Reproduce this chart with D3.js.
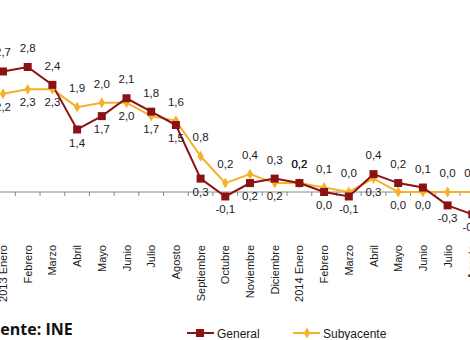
<!DOCTYPE html>
<html>
<head>
<meta charset="utf-8">
<script src="https://cdn.jsdelivr.net/npm/d3@7"></script>
<style>
  body { margin: 0; background: #fff; }
  svg { display: block; font-family: "Liberation Sans", Arial, sans-serif; }
</style>
</head>
<body>
<svg id="chart" width="470" height="340"></svg>
<script>

// categories and values
var months = ["2013 Enero", "Febrero", "Marzo", "Abril", "Mayo", "Junio", "Julio", "Agosto",
  "Septiembre", "Octubre", "Noviembre", "Diciembre", "2014 Enero", "Febrero ", "Marzo ",
  "Abril ", "Mayo ", "Junio ", "Julio ", "Agosto "];
var general = [2.7, 2.8, 2.4, 1.4, 1.7, 2.1, 1.8, 1.5, 0.3, -0.1, 0.2, 0.3, 0.2, 0.0, -0.1, 0.4, 0.2, 0.1, -0.3, -0.5];
var subyacente = [2.2, 2.3, 2.3, 1.9, 2.0, 2.0, 1.7, 1.6, 0.8, 0.2, 0.4, 0.2, 0.2, 0.1, 0.0, 0.3, 0.0, 0.0, 0.0, 0.0];
// which side of the point each value label sits on (1 = above, -1 = below)
var generalSide = [1, 1, 1, -1, -1, 1, 1, -1, -1, -1, -1, 1, 1, -1, -1, 1, 1, 1, -1, -1];
var subyacenteSide = [-1, -1, -1, 1, 1, -1, -1, 1, 1, 1, 1, -1, 1, 1, 1, -1, -1, -1, 1, 1];

var seriesNames = ["General", "Subyacente"];
var colors = ["#8b1212", "#f5b12a"];

var svg = d3.select("#chart");
var step = 24.7, first = 3;

// scales
var x = d3.scaleBand().domain(months)
  .range([first - step / 2, first - step / 2 + step * months.length]);
var y = d3.scaleLinear().domain([-1, 3]).range([192 + 44.64, 192 - 3 * 44.64]);
var cx = function(i) { return x(months[i]) + x.bandwidth() / 2; };

// zero axis with ticks between categories
var axis = svg.append("g").attr("transform", "translate(0," + y(0) + ")");
axis.append("line")
  .attr("x1", 0).attr("x2", 470)
  .attr("stroke", "#8a8a8a").attr("stroke-width", 1);
axis.selectAll("line.tick")
  .data(d3.range(months.length + 1))
  .enter().append("line")
  .attr("class", "tick")
  .attr("x1", function(i) { return x.range()[0] + i * x.step(); })
  .attr("x2", function(i) { return x.range()[0] + i * x.step(); })
  .attr("y1", 0).attr("y2", 4)
  .attr("stroke", "#8a8a8a");

// category labels
svg.append("g").selectAll("text")
  .data(months)
  .enter().append("text")
  .attr("transform", function(d, i) { return "translate(" + (cx(i) + 4) + ",245)rotate(-90)"; })
  .attr("text-anchor", "end")
  .attr("font-size", 11)
  .attr("fill", "#1a1a1a")
  .text(function(d) { return d.trim(); });

var line = d3.line()
  .x(function(d, i) { return cx(i); })
  .y(function(d) { return y(d); });

// subyacente first so general sits on top
svg.append("path")
  .datum(subyacente)
  .attr("d", line)
  .attr("fill", "none")
  .attr("stroke", colors[1])
  .attr("stroke-width", 2);

svg.append("path")
  .datum(general)
  .attr("d", line)
  .attr("fill", "none")
  .attr("stroke", colors[0])
  .attr("stroke-width", 2);

svg.append("g").selectAll("path")
  .data(subyacente)
  .enter().append("path")
  .attr("d", d3.symbol().type(d3.symbolDiamond).size(34))
  .attr("transform", function(d, i) { return "translate(" + cx(i) + "," + y(d) + ")"; })
  .attr("fill", colors[1]);

svg.append("g").selectAll("rect")
  .data(general)
  .enter().append("rect")
  .attr("x", function(d, i) { return cx(i) - 4; })
  .attr("y", function(d) { return y(d) - 4; })
  .attr("width", 8).attr("height", 8)
  .attr("fill", colors[0]);

// value labels
var fmt = function(v) { return d3.format(".1f")(v).replace("−", "-").replace(".", ","); };

function labels(values, side) {
  svg.append("g").selectAll("text")
    .data(values)
    .enter().append("text")
    .attr("x", function(d, i) { return cx(i); })
    .attr("y", function(d, i) { return side[i] > 0 ? y(d) - 15 : y(d) + 17; })
    .attr("text-anchor", "middle")
    .attr("font-size", 11.5)
    .attr("fill", "#1a1a1a")
    .text(fmt);
}
labels(subyacente, subyacenteSide);
labels(general, generalSide);

// legend
var legend = svg.append("g").attr("transform", "translate(187,333)");
seriesNames.forEach(function(name, k) {
  var g = legend.append("g").attr("transform", "translate(" + k * 106 + ",0)");
  g.append("line").attr("x1", 0).attr("x2", 27)
    .attr("stroke", colors[k]).attr("stroke-width", 2);
  if (k === 0) {
    g.append("rect").attr("x", 9).attr("y", -4).attr("width", 8).attr("height", 8)
      .attr("fill", colors[k]);
  } else {
    g.append("path").attr("d", d3.symbol().type(d3.symbolDiamond).size(34))
      .attr("transform", "translate(14,0)").attr("fill", colors[k]);
  }
  g.append("text").attr("x", 30).attr("y", 4.5)
    .attr("font-size", 12).attr("fill", "#1a1a1a")
    .text(name);
});

// source note
svg.append("text")
  .attr("x", -19).attr("y", 335)
  .attr("font-size", 16).attr("font-weight", "bold")
  .attr("font-family", "'Open Sans', sans-serif")
  .attr("fill", "#111")
  .text("Fuente: INE");

</script>
</body>
</html>
